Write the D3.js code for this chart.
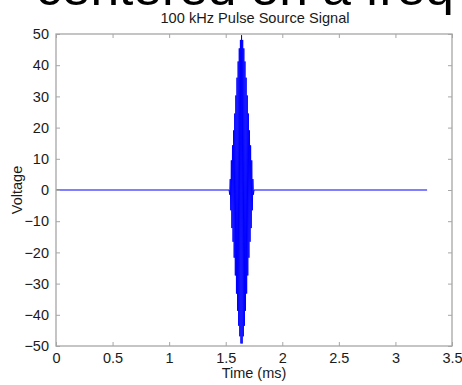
<!DOCTYPE html>
<html><head><meta charset="utf-8">
<script src="https://cdn.jsdelivr.net/npm/d3@7"></script>
<style>body{margin:0;background:#fff;}svg{display:block;font-family:Arial,"Liberation Sans",sans-serif;}</style>
</head><body>
<svg id="c" width="462" height="385"></svg>
<script>
const headline = "centered on a freq";
const title = "100 kHz Pulse Source Signal";
const xLabel = "Time (ms)";
const yLabel = "Voltage";
const xTicks = [0, 0.5, 1, 1.5, 2, 2.5, 3, 3.5];
const yTicks = [-50, -40, -30, -20, -10, 0, 10, 20, 30, 40, 50];
const timeMs = [0, 1.530,
  1.535,1.540,1.545,1.550,1.555,1.560,1.565,1.570,1.575,1.580,1.585,1.590,1.595,1.600,1.605,1.610,1.615,1.620,1.625,1.630,1.635,
  1.640,
  1.645,1.650,1.655,1.660,1.665,1.670,1.675,1.680,1.685,1.690,1.695,1.700,1.705,1.710,1.715,1.720,1.725,1.730,1.735,1.740,1.745,
  1.750, 3.28];
const voltage = [0, 0,
  -1.5,3.5,-6.5,9.5,-12.2,14.3,-16.6,19.1,-21.7,24.5,-27.4,30.3,-33.2,36.0,-38.7,41.2,-43.5,45.4,-46.9,48.1,-49.2,
  49.6,
  -49.2,48.1,-46.9,45.4,-43.5,41.2,-38.7,36.0,-33.2,30.3,-27.4,24.5,-21.7,19.1,-16.6,14.3,-12.2,9.5,-6.5,3.5,-1.5,
  0, 0];

const svg = d3.select("#c");
const L = 56, R = 452, T = 34, B = 346;
const x = d3.scaleLinear().domain([0, 3.5]).range([L, R]);
const y = d3.scaleLinear().domain([-50, 50]).range([B, T]);
const axisColor = "#a6a6a6";
const textColor = "#1a1a1a";

// cropped headline (cut off at the top edge, as in the reference)
svg.append("text").attr("x", 36).attr("y", 5).attr("font-size", 49).attr("fill", "#000")
  .attr("textLength", 418).attr("lengthAdjust", "spacingAndGlyphs").text(headline);

svg.append("text").attr("x", 255).attr("y", 23).attr("text-anchor", "middle")
  .attr("font-size", 14.6).attr("fill", textColor).text(title);

// data line
const data = timeMs.map((t, i) => [t, voltage[i]]);
svg.append("path").datum(data)
  .attr("d", d3.line().x(d => x(d[0])).y(d => y(d[1])))
  .attr("fill", "none").attr("stroke", "#0000ff").attr("stroke-width", 1);

// axes (MATLAB box with inward ticks)
function style(g, showText) {
  g.select(".domain").remove();
  g.selectAll(".tick line").attr("stroke", axisColor);
  g.selectAll(".tick text").attr("fill", textColor).attr("font-size", 14.5).style("display", showText ? null : "none");
}
svg.append("g").attr("transform", `translate(0,${B})`)
  .call(d3.axisBottom(x).tickValues(xTicks).tickSize(-4).tickPadding(7).tickFormat(d3.format("")))
  .call(g => style(g, true));
svg.append("g").attr("transform", `translate(0,${T})`)
  .call(d3.axisTop(x).tickValues(xTicks).tickSize(-4).tickFormat(""))
  .call(g => style(g, false));
svg.append("g").attr("transform", `translate(${L},0)`)
  .call(d3.axisLeft(y).tickValues(yTicks).tickSize(-4).tickPadding(7).tickFormat(d3.format("")))
  .call(g => style(g, true));
svg.append("g").attr("transform", `translate(${R},0)`)
  .call(d3.axisRight(y).tickValues(yTicks).tickSize(-4).tickFormat(""))
  .call(g => style(g, false));

svg.append("rect").attr("x", L).attr("y", T).attr("width", R - L).attr("height", B - T)
  .attr("fill", "none").attr("stroke", axisColor).attr("stroke-width", 1.3);

svg.append("text").attr("x", 254).attr("y", 378).attr("text-anchor", "middle")
  .attr("font-size", 14.5).attr("fill", textColor).text(xLabel);
svg.append("text").attr("transform", "translate(22,190) rotate(-90)").attr("text-anchor", "middle")
  .attr("font-size", 14.5).attr("fill", textColor).text(yLabel);
</script>
</body></html>
